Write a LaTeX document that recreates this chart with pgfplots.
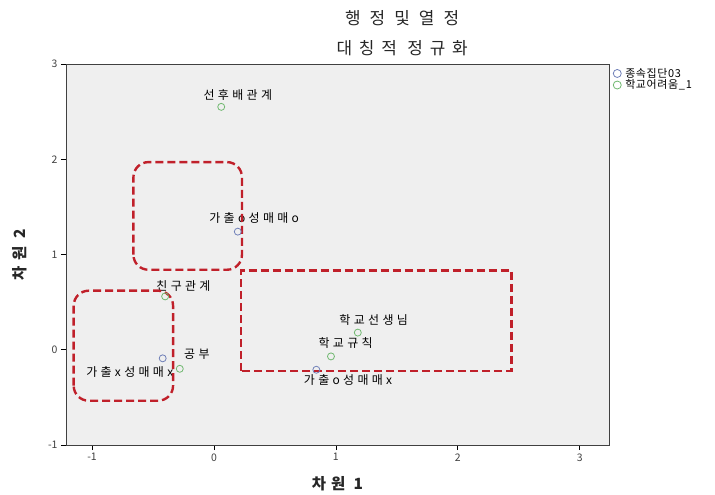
\documentclass[border=0pt]{standalone}
\usepackage{fontspec}
\setmainfont{Noto Sans CJK KR}
\newfontfamily\lbl[LetterSpace=28]{Noto Sans CJK KR}
\newfontfamily\leg[LetterSpace=6]{Noto Sans CJK KR}
\newfontfamily\ttla[LetterSpace=31]{Noto Sans CJK KR}
\newfontfamily\ttlb[LetterSpace=40]{Noto Sans CJK KR}
\newfontfamily\axl[LetterSpace=32]{Noto Sans CJK KR}
\usepackage{pgfplots}
\pgfplotsset{compat=1.18}
\definecolor{bgray}{HTML}{EFEFEF}
\definecolor{mblue}{HTML}{7080B8}
\definecolor{mgreen}{HTML}{70B870}
\definecolor{anred}{HTML}{C0202A}
\begin{document}
\begin{tikzpicture}
\begin{axis}[
    scale only axis,
    width=543bp, height=381bp,
    xmin=-1.213, xmax=3.24,
    ymin=-1, ymax=3,
    xtick={-1,0,1,2,3}, ytick={-1,0,1,2,3},
    tick align=outside,
    xtick pos=bottom, ytick pos=left,
    major tick length=5bp,
    tick style={black, line width=0.7pt},
    axis line style={black!75, line width=0.8pt},
    axis background/.style={fill=bgray},
    tick label style={font=\fontsize{10.5}{11}\selectfont, text=black!75},
    /pgf/number format/assume math mode=true,
    xlabel={\axl\bfseries 차원 1}, ylabel={\axl\bfseries 차원 2},
    label style={font=\fontsize{15.5}{16}\selectfont, text=black!85},
    xlabel style={at={(rel axis cs:0.5,0)}, yshift=-28bp, anchor=north},
    ylabel style={yshift=14bp},
    legend style={at={(1.002,1)}, anchor=north west, draw=none, fill=none,
        font=\leg\fontsize{11}{12}\selectfont, row sep=-3bp},
    legend cell align=left,
    legend image post style={mark size=4bp},
    clip=false,
]
% 종속집단03
\addplot[only marks, mark=o, mark size=3.5bp, mblue, line width=0.8pt]
  coordinates {(0.196,1.24) (-0.42,-0.09) (0.84,-0.21)};
\addlegendentry{\hspace{2bp}종속집단03}
% 학교어려움_1
\addplot[only marks, mark=o, mark size=3.5bp, mgreen, line width=0.8pt]
  coordinates {(0.06,2.55) (-0.40,0.56) (-0.28,-0.20) (1.18,0.18) (0.96,-0.07)};
\addlegendentry{\hspace{2bp}학교어려움\_1}

\begin{scope}[font=\lbl\fontsize{12}{13}\selectfont]
\node at (axis cs:0.196,2.67) {선후배관계};
\node at (axis cs:0.33,1.386) {가출o성매매o};
\node at (axis cs:-0.25,0.67) {친구관계};
\node at (axis cs:-0.14,-0.05) {공부};
\node at (axis cs:-0.69,-0.23) {가출x성매매x};
\node at (axis cs:1.31,0.315) {학교선생님};
\node at (axis cs:1.08,0.07) {학교규칙};
\node at (axis cs:1.10,-0.315) {가출o성매매x};
\end{scope}

% annotation boxes
\begin{scope}[anred, line width=2.4pt, dash pattern=on 8bp off 4bp]
\draw[rounded corners=15bp] (axis cs:-0.66,0.84) rectangle (axis cs:0.23,1.97);
\draw[rounded corners=15bp] (axis cs:-1.15,-0.535) rectangle (axis cs:-0.335,0.62);
\draw (axis cs:0.22,-0.22) rectangle (axis cs:2.44,0.83);
\end{scope}

\node[font=\ttla\fontsize{17}{18}\selectfont, text=black!85] at (rel axis cs:0.619,1.121) {행 정 및 열 정};
\node[font=\ttlb\fontsize{17}{18}\selectfont, text=black!85] at (rel axis cs:0.619,1.042) {대칭적 정규화};
\end{axis}
\pgfresetboundingbox
\path ([shift={(-66bp,-50bp)}]current axis.south west) rectangle ([shift={(106bp,64bp)}]current axis.north east);
\end{tikzpicture}
\end{document}
